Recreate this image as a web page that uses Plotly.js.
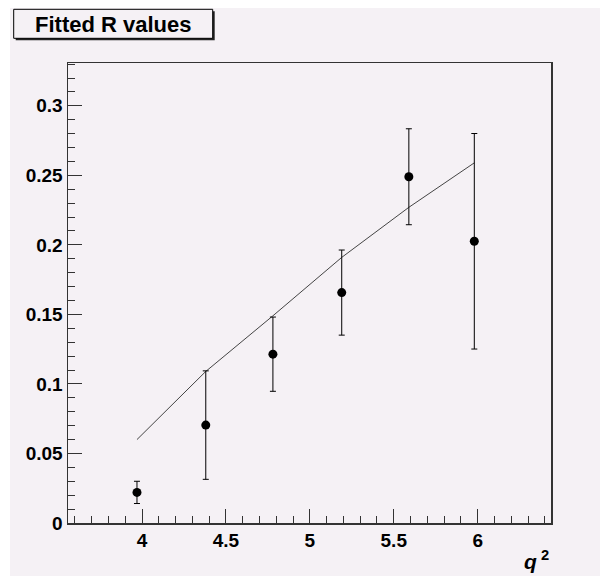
<!DOCTYPE html>
<html>
<head>
<meta charset="utf-8">
<script src="https://cdn.plot.ly/plotly-3.0.1.min.js"></script>
<style>
  html, body { margin: 0; padding: 0; background: #ffffff; }
  #chart { position: absolute; left: 10px; top: 8px; width: 590px; height: 568px; }
</style>
</head>
<body>
<div id="chart"></div>
<script>
// q^2 values of the measured points
const q2 = [3.97, 4.38, 4.78, 5.19, 5.59, 5.98];
// fitted R values and their errors
const rValues = [0.022, 0.0704, 0.1214, 0.1657, 0.249, 0.2026];
const rErrors = [0.008, 0.039, 0.0267, 0.0306, 0.0345, 0.0775];
// fit curve evaluated at the same q^2 values
const fitValues = [0.060, 0.109, 0.149, 0.191, 0.227, 0.259];

const titleText = "Fitted R values";
const xTitle = "q";

const bg = "#f5f1f5";
const frame = "#333333";
const font = "Liberation Sans, Arial, Helvetica, sans-serif";

const traces = [
  {
    x: q2, y: fitValues, type: "scatter", mode: "lines",
    line: { color: "#444444", width: 1 }, hoverinfo: "skip", showlegend: false
  },
  {
    x: q2, y: rValues, type: "scatter", mode: "markers",
    marker: { color: "#000000", size: 9, symbol: "circle" },
    error_y: { type: "data", array: rErrors, visible: true, color: "#000000", thickness: 1, width: 3 },
    showlegend: false
  }
];

const layout = {
  width: 590, height: 568,
  margin: { l: 58, r: 49, t: 55, b: 53, pad: 0 },
  paper_bgcolor: bg, plot_bgcolor: bg,
  font: { family: font, color: "#000000" },
  showlegend: false,
  xaxis: {
    range: [3.559, 6.437], tickmode: "linear", tick0: 4, dtick: 0.5,
    ticks: "inside", ticklen: 14, tickwidth: 1, tickcolor: frame,
    showline: true, linecolor: frame, linewidth: 1.5, mirror: true,
    showgrid: false, zeroline: false,
    tickfont: { family: font, size: 19, color: "#000000", weight: "bold" },
    minor: { dtick: 0.1, tick0: 4, ticks: "inside", ticklen: 7, tickwidth: 1, tickcolor: frame, showgrid: false }
  },
  yaxis: {
    range: [0, 0.3308], tickmode: "linear", tick0: 0, dtick: 0.05,
    ticks: "inside", ticklen: 14, tickwidth: 1, tickcolor: frame,
    showline: true, linecolor: frame, linewidth: 1.5, mirror: true,
    showgrid: false, zeroline: false,
    tickfont: { family: font, size: 19, color: "#000000", weight: "bold" },
    minor: { dtick: 0.01, tick0: 0, ticks: "inside", ticklen: 7, tickwidth: 1, tickcolor: frame, showgrid: false }
  },
  shapes: [
    { type: "rect", xref: "paper", yref: "paper", xsizemode: "pixel", ysizemode: "pixel",
      xanchor: 0, yanchor: 1, x0: -52.3, x1: 146.7, y0: 22.7, y1: 51.7,
      line: { width: 0 }, fillcolor: "#222222", layer: "above" },
    { type: "rect", xref: "paper", yref: "paper", xsizemode: "pixel", ysizemode: "pixel",
      xanchor: 0, yanchor: 1, x0: -54.3, x1: 144.7, y0: 24.7, y1: 53.7,
      line: { width: 1, color: "#000000" }, fillcolor: bg, layer: "above" }
  ],
  annotations: [
    { text: "<b>" + titleText + "</b>", xref: "paper", yref: "paper",
      x: 0.0926, y: 1.083, xanchor: "center", yanchor: "middle", showarrow: false,
      font: { family: font, size: 22, color: "#000000" } },
    { text: "<b><i>" + xTitle + "</i></b><sup><b> 2</b></sup>", xref: "paper", yref: "paper",
      x: 1.0, y: -0.08, xanchor: "right", yanchor: "middle", showarrow: false,
      font: { family: font, size: 21, color: "#000000" } }
  ]
};

Plotly.newPlot("chart", traces, layout, { displayModeBar: false, staticPlot: true });
</script>
</body>
</html>
